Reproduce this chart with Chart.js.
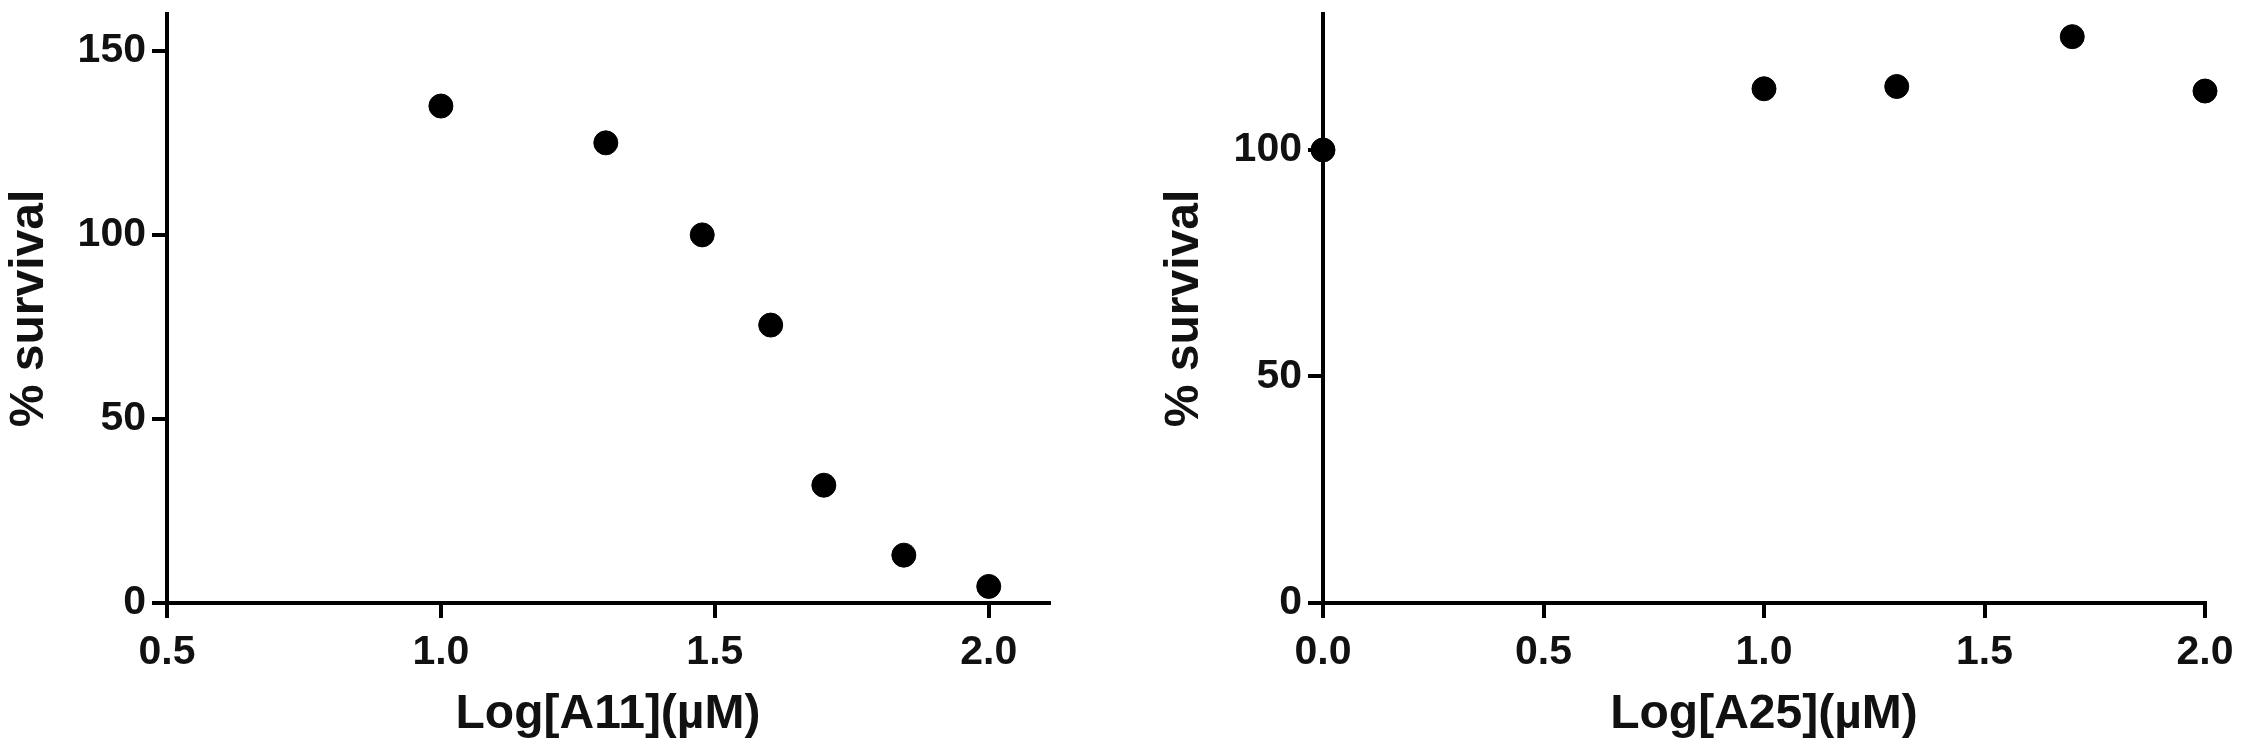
<!DOCTYPE html>
<html>
<head>
<meta charset="utf-8">
<script src="https://cdn.jsdelivr.net/npm/chart.js@4/dist/chart.umd.min.js"></script>
<style>
  body { margin: 0; background: #fff; }
  #wrap { position: relative; width: 2245px; height: 751px; }
  #chartA11 { position: absolute; left: 0; top: 0; }
  #chartA25 { position: absolute; left: 1120px; top: 0; }
</style>
</head>
<body>
<div id="wrap">
  <canvas id="chartA11" width="1120" height="751"></canvas>
  <canvas id="chartA25" width="1125" height="751"></canvas>
</div>
<script>
/* DATA */

const logA11 = [1.0, 1.301, 1.477, 1.602, 1.699, 1.845, 2.0];
const survivalA11 = [135, 125, 100, 75.5, 32, 13, 4.5];

const logA25 = [0.0, 1.0, 1.301, 1.699, 2.0];
const survivalA25 = [100, 113.5, 114, 125, 113];

const xTicksA11 = [0.5, 1.0, 1.5, 2.0];
const yTicksA11 = [0, 50, 100, 150];
const xTicksA25 = [0.0, 0.5, 1.0, 1.5, 2.0];
const yTicksA25 = [0, 50, 100];

const yTitle = "% survival";
const xTitleA11 = "Log[A11](µM)";
const xTitleA25 = "Log[A25](µM)";

/* STYLE */

const FONT = "'Liberation Sans', Arial, sans-serif";
const INK = "#111";

Chart.defaults.font.family = FONT;
Chart.defaults.color = INK;

function makeChart(id, xs, ys, xTicks, yTicks, xMin, xMax, yMax, padLeft, padRight, axisLeft, xTitle) {
  const points = xs.map((x, i) => ({ x: x, y: ys[i] }));

  const axisLine = { display: true, color: "#000", width: 4 };
  const tickMarks = {
    display: true,
    drawOnChartArea: false,
    drawTicks: true,
    tickLength: 15,
    color: "#000",
    lineWidth: 4
  };

  return new Chart(document.getElementById(id), {
    type: "scatter",
    data: {
      datasets: [
        {
          data: points,
          backgroundColor: "#000",
          borderColor: "#000",
          pointRadius: 12,
          pointHoverRadius: 12,
          clip: false
        }
      ]
    },
    options: {
      responsive: false,
      animation: false,
      devicePixelRatio: 1,
      layout: {
        padding: { left: padLeft, top: 14, right: padRight, bottom: 0 }
      },
      plugins: {
        legend: { display: false },
        tooltip: { enabled: false }
      },
      scales: {
        x: {
          type: "linear",
          min: xMin,
          max: xMax,
          border: axisLine,
          grid: tickMarks,
          afterBuildTicks: (scale) => {
            scale.ticks = xTicks.map((v) => ({ value: v }));
          },
          afterFit: (scale) => {
            scale.height = 148;
            scale.paddingLeft = 0;
            scale.paddingRight = 0;
          },
          ticks: {
            autoSkip: false,
            maxRotation: 0,
            padding: 10,
            font: { size: 41, weight: "bold" },
            callback: (v) => Number(v).toFixed(1)
          },
          title: {
            display: true,
            text: xTitle,
            padding: { top: 0, bottom: 7 },
            font: { size: 48, weight: "bold" }
          }
        },
        y: {
          type: "linear",
          min: 0,
          max: yMax,
          border: axisLine,
          grid: tickMarks,
          afterBuildTicks: (scale) => {
            scale.ticks = yTicks.map((v) => ({ value: v }));
          },
          afterFit: (scale) => {
            scale.width = axisLeft - padLeft;
            scale.paddingTop = 0;
            scale.paddingBottom = 0;
          },
          ticks: {
            autoSkip: false,
            padding: 6,
            font: { size: 41, weight: "bold" }
          },
          title: {
            display: true,
            text: yTitle,
            padding: { top: 1, bottom: 0 },
            font: { size: 48, weight: "bold" }
          }
        }
      }
    }
  });
}

makeChart("chartA11", logA11, survivalA11, xTicksA11, yTicksA11, 0.5, 2.11, 160, 0, 71, 167, xTitleA11);
makeChart("chartA25", logA25, survivalA25, xTicksA25, yTicksA25, 0.0, 2.0, 130, 35, 40, 203, xTitleA25);
</script>
</body>
</html>
